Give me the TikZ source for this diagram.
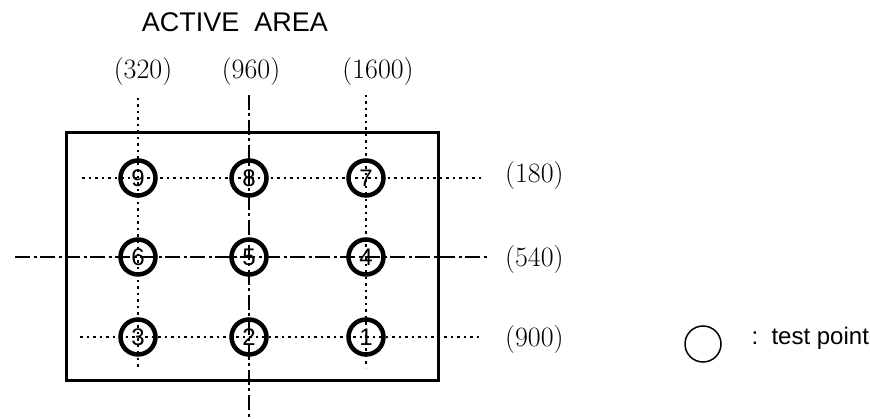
\documentclass[tikz,border=0pt]{standalone}
\usepackage{fontspec}
\newfontfamily\arialf{Liberation Sans}
\usetikzlibrary{calc}
\tikzset{
  dotline/.style={line width=2pt, dash pattern=on 2.5pt off 4pt},
  centreline/.style={line width=2pt, dash pattern=on 15pt off 3.5pt on 3pt off 3.5pt},
  testpt/.style={circle, draw, line width=4.5pt, minimum size=35pt, inner sep=0pt,
    font=\arialf\fontsize{24}{25}\selectfont},
  coordlbl/.style={font=\fontsize{28}{30}\selectfont, inner sep=0pt}
}
\begin{document}
\begin{tikzpicture}[x=1pt,y=-1pt]
				\useasboundingbox (0,0) rectangle (870,419);
				
				\node[font=\arialf\fontsize{27}{28}\selectfont] (title) at (235,22) {ACTIVE\ \ AREA};
				
				\node[coordlbl] (c320) at (143,72) {(320)};
				\node[coordlbl] (c960) at (251,72) {(960)};
				\node[coordlbl] (c1600) at (378,72) {(1600)};
				\node[coordlbl,anchor=west] (r180) at (505,176) {(180)};
				\node[coordlbl,anchor=west] (r540) at (505,260) {(540)};
				\node[coordlbl,anchor=west] (r900) at (505,340) {(900)};
				
				\draw[line width=3pt] (66,133) rectangle (438,381);
				
				\draw[dotline] (138,98) -- (138,370);
				\draw[centreline] (249,95) -- (249,419);
				\draw[dotline] (366,95) -- (366,368);
				\draw[dotline] (82,178) -- (482,178);
				\draw[centreline] (15,257) -- (488,257);
				\draw[dotline] (80,337) -- (482,337);
				
				\node[testpt] (tp9) at (138,178) {9};
				\node[testpt] (tp8) at (249,178) {8};
				\node[testpt] (tp7) at (366,178) {7};
				\node[testpt] (tp6) at (138,257) {6};
				\node[testpt] (tp5) at (249,257) {5};
				\node[testpt] (tp4) at (366,257) {4};
				\node[testpt] (tp3) at (138,337) {3};
				\node[testpt] (tp2) at (249,337) {2};
				\node[testpt] (tp1) at (366,337) {1};
				
				\node[circle, draw, line width=1.5pt, minimum size=36pt] (legend) at (703,344) {};
				\node[anchor=west, font=\arialf\fontsize{24}{26}\selectfont] (legendtxt) at (748,338) {:\ \ test\ point};
			\end{tikzpicture}
\end{document}
